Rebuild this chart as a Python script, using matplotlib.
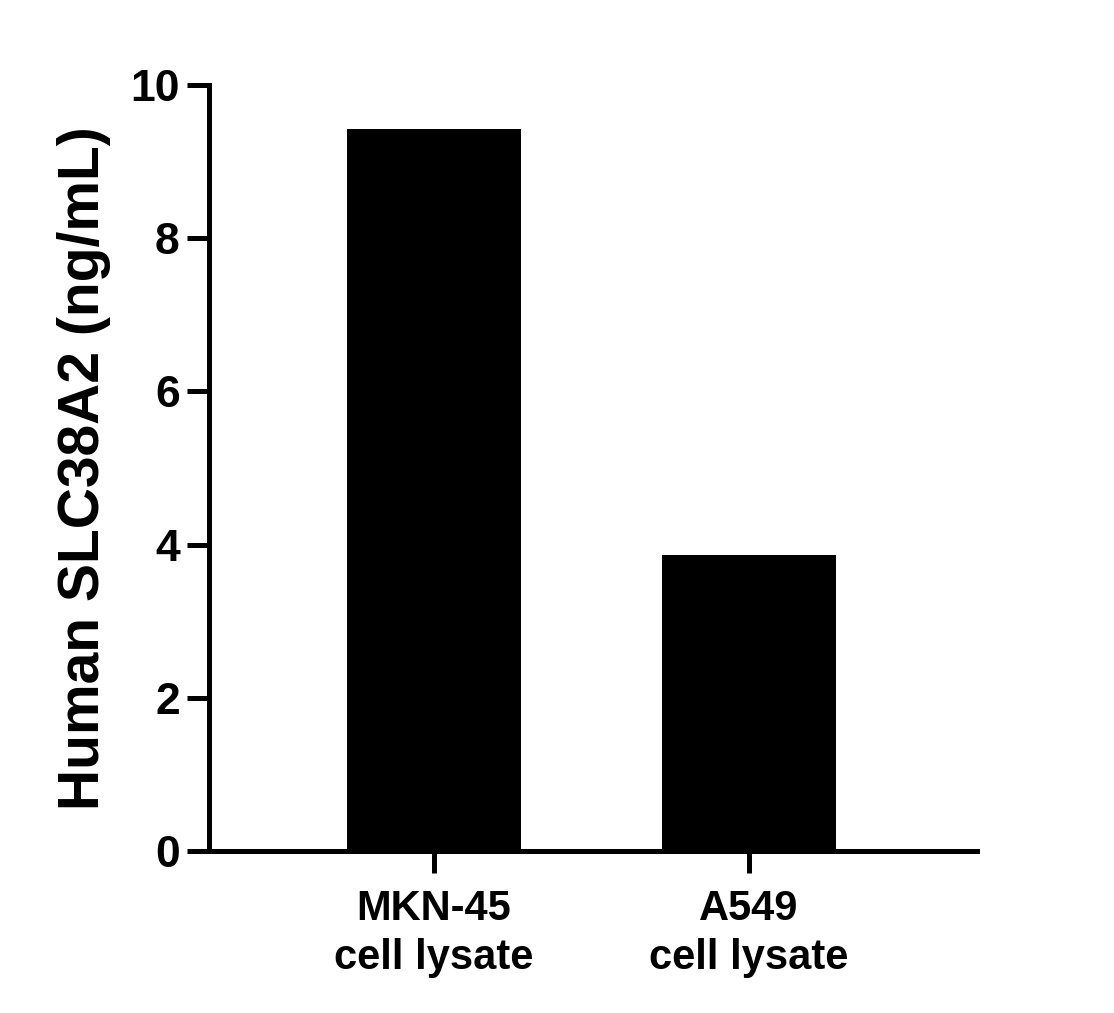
import matplotlib
matplotlib.use("Agg")
import matplotlib.pyplot as plt

# values
categories = ["MKN-45\ncell lysate", "A549\ncell lysate"]
values = [9.43, 3.87]
y_ticks = [0, 2, 4, 6, 8, 10]

plt.rcParams["font.family"] = ["Liberation Sans", "DejaVu Sans"]
plt.rcParams["font.weight"] = "bold"

fig = plt.figure(figsize=(11.14, 10.13), dpi=100)
ax = fig.add_axes([209 / 1114, 1 - 851 / 1013, (977 - 209) / 1114, (851 - 85) / 1013])

x = list(range(len(categories)))
ax.bar(x, values, width=0.55, color="black", edgecolor="none")

ax.set_xlim(-0.714, 1.724)
ax.set_ylim(0, 10)
ax.set_yticks(y_ticks)
ax.set_xticks(x)
ax.set_xticklabels(categories, fontsize=30, fontweight="bold", linespacing=1.3)
ax.set_yticklabels([str(t) for t in y_ticks], fontsize=32, fontweight="bold")

for side in ("top", "right"):
    ax.spines[side].set_visible(False)
for side in ("left", "bottom"):
    ax.spines[side].set_linewidth(3.6)
    ax.spines[side].set_capstyle("projecting")

ax.tick_params(axis="both", width=3.6, length=16, direction="out")
ax.tick_params(axis="y", pad=5)
ax.tick_params(axis="x", pad=11)

ax.set_ylabel("Human SLC38A2 (ng/mL)", fontsize=41, fontweight="bold", labelpad=14)

fig.savefig("out.png", dpi=100)
